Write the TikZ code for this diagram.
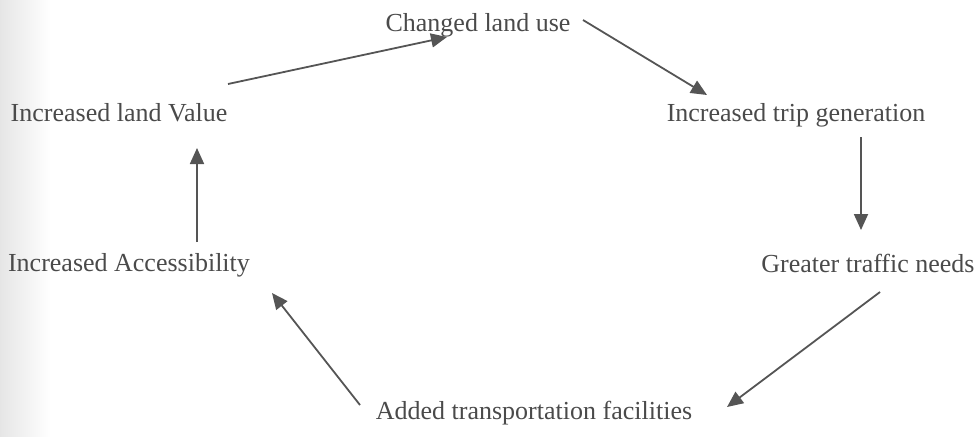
\documentclass[tikz,border=0pt]{standalone}
\usepackage{fontspec}
\setmainfont{Liberation Serif}
\usetikzlibrary{arrows.meta}

\definecolor{inkgray}{HTML}{4A4A4A}
\definecolor{linegray}{HTML}{555555}

\tikzset{
    lbl/.style={inner sep=0pt, text=inkgray, font=\fontsize{13}{15}\selectfont},
    flow/.style={color=linegray, line width=0.9pt, -{Triangle[length=8pt,width=7pt]}}
}

\begin{document}
\begin{tikzpicture}[x=0.5pt, y=-0.5pt]
    \useasboundingbox (0,0) rectangle (980,436);
    \shade[left color=black!10, right color=white] (0,0) rectangle (50,436);
    \node[lbl] (chg)  at (478,25)  {Changed land use};
    \node[lbl] (trip) at (796,115) {Increased trip generation};
    \node[lbl] (need) at (868,263) {Greater traffic needs};
    \node[lbl] (fac)  at (534,413) {Added transportation facilities};
    \node[lbl] (acc)  at (129,265) {Increased Accessibility};
    \node[lbl] (val)  at (119,113) {Increased land Value};
    %\node[] at (490,220) {cycle};
    \draw[flow] ([shift={(109,-29)}]val.center)  -- ([shift={(-31,12)}]chg.center);
    \draw[flow] ([shift={(105,-5)}]chg.center)   -- ([shift={(-89,-20)}]trip.center);
    \draw[flow] ([shift={(65,22)}]trip.center)   -- ([shift={(-7,-33)}]need.center);
    \draw[flow] ([shift={(12,29)}]need.center)   -- ([shift={(193,-6)}]fac.center);
    \draw[flow] ([shift={(-174,-8)}]fac.center)  -- ([shift={(143,28)}]acc.center);
    \draw[flow] ([shift={(68,-23)}]acc.center)   -- ([shift={(78,35)}]val.center);
\end{tikzpicture}
\end{document}
